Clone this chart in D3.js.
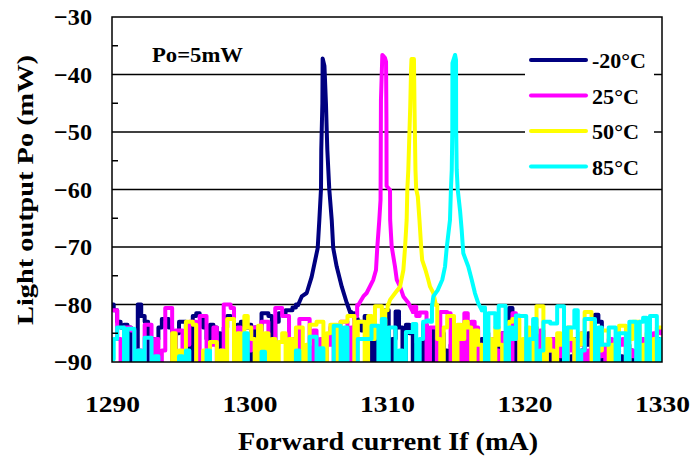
<!DOCTYPE html>
<html><head><meta charset="utf-8">
<script src="https://cdn.jsdelivr.net/npm/d3@7"></script>
<style>
body{margin:0;background:#fff;}
text{font-family:"Liberation Serif","Times New Roman",serif;font-weight:bold;fill:#000;}
</style></head>
<body><svg id="c" width="692" height="468"></svg>
<script>
// ---- data ----
const xTicks = [1290, 1300, 1310, 1320, 1330];
const yTicks = [-30, -40, -50, -60, -70, -80, -90];
const yMinorTicks = [-35, -45, -55, -65, -75, -85];
const seriesNames = ["-20°C", "25°C", "50°C", "85°C"];
const seriesColors = ["#000080", "#ff00ff", "#ffff00", "#00ffff"];
const wavelengthStart = 1290, wavelengthStep = 0.25;

const noiseNavy = [
-80,-81,-83,-84,-83.5,-84,-95,-95,-80,-82,
-83,-95,-86,-86,-84,-82.5,-82.5,-84,-95,-85,
-83,-83,-85,-95,-82,-81.5,-82,-84,-86,-83.5,
-84,-85,-95,-84,-82,-82.5,-84,-83.5,-83,-84,
-83.5,-95,-84,-84.5,-81.5,-81.5,-82,-95,-83,-81.5,
-81.5,-81,-81,-80.5,-80,-80,-80,-80,-80,-80,
-80,-80,-80,-80,-80,-80,-80,-80,-80,-80,
-81.5,-82.5,-83,-84.5,-82,-83.5,-95,-86,-95,-84,
-81,-95,-86,-81.2,-84,-95,-83.5,-85,-95,-87,
-95,-83.5,-85,-95,-84.5,-86,-85,-88,-95,-87,
-95,-88,-86,-95,-87,-89,-95,-88,-86,-95,
-87,-88,-95,-86,-85,-95,-80.6,-84,-95,-87,
-88,-95,-86,-84,-95,-88,-87,-95,-86,-89,
-95,-88,-87,-95,-89,-86,-95,-88,-87,-85,
-95,-81.8,-83,-95,-88,-87,-95,-86,-89,-95,
-87,-88,-95,-89,-86,-95,-88,-87,-95,-86,
-88];
const noiseMagenta = [
-81,-81,-86,-95,-84,-84,-84.5,-95,-88,-95,
-83.5,-83.5,-95,-86,-95,-88,-80.6,-80.6,-95,-84.5,
-84.5,-95,-87,-83,-83,-95,-82,-82,-95,-87,
-84,-95,-88,-80,-80,-80.6,-95,-84,-95,-86,
-88,-84,-84,-95,-83,-83,-95,-87,-80.6,-80.6,
-82,-82,-95,-86,-95,-82.5,-82.5,-82.5,-95,-84.5,
-95,-86,-95,-87,-84,-95,-88,-83,-83,-95,
-84,-82,-85,-85,-85,-85,-85,-85,-85,-85,
-85,-85,-85,-85,-85,-85,-85,-85,-80.4,-82,
-81.4,-81.4,-95,-84,-84,-95,-81.3,-81.3,-81.5,-95,
-84,-85,-95,-81.5,-95,-83,-84,-95,-87,-85,
-95,-86,-88,-95,-85,-87,-95,-81.5,-86,-95,
-88,-86,-95,-87,-89,-84.5,-95,-88,-86,-95,
-87,-89,-95,-86,-88,-95,-87,-85,-95,-88,
-86,-95,-89,-87,-95,-86,-88,-95,-87,-86,
-95,-88,-89,-95,-86,-87,-95,-88,-85,-84.5,
-85];
const noiseYellow = [
-95,-95,-95,-95,-92,-95,-95,-95,-95,-92,
-95,-95,-95,-95,-95,-95,-95,-92,-85,-95,
-88,-95,-83,-83,-83.5,-95,-95,-88,-95,-86.5,
-86.5,-95,-88,-95,-82.5,-82.5,-95,-85,-95,-82,
-84,-86,-95,-83.7,-95,-85,-95,-86,-95,-86.5,
-85,-95,-86,-95,-84,-84,-95,-87,-83.5,-83.5,
-83,-83,-95,-85,-83.5,-83.5,-95,-83,-83,-82,
-82,-95,-83,-83,-95,-82,-86,-80.3,-80.3,-84,
-81,-85,-85,-85,-85,-85,-85,-85,-85,-85,
-85,-85,-85,-85,-85,-86,-95,-84,-82,-82,
-95,-83.5,-86,-83,-84,-95,-84.5,-87,-95,-85,
-86,-95,-84,-87,-95,-85,-83,-82.5,-82.5,-95,
-86,-84,-95,-85,-80.3,-80.3,-95,-86,-88,-95,
-85,-87,-95,-84,-86,-95,-87,-85,-81.3,-81.3,
-95,-86,-88,-84.5,-84.5,-95,-87,-86,-83.7,-83.7,
-95,-86,-83,-83,-95,-87,-85,-95,-86,-84,
-84];
const noiseCyan = [
-89.5,-86,-84,-84,-95,-84.2,-84.2,-95,-88,-95,
-85.8,-85.8,-95,-89,-95,-95,-95,-95,-95,-95,
-89,-95,-88,-95,-95,-95,-95,-95,-88,-95,
-95,-95,-95,-95,-95,-95,-95,-95,-95,-85,
-95,-95,-95,-95,-88.2,-95,-95,-95,-95,-95,
-95,-95,-95,-95,-88,-95,-95,-95,-85.6,-85.6,
-95,-87.6,-95,-95,-95,-83.7,-83.7,-95,-84,-95,
-95,-95,-86,-86,-86,-86,-83.7,-83.7,-95,-82.5,
-95,-84,-84,-95,-88,-95,-84.8,-84.8,-83.4,-95,
-86,-83,-82.8,-83,-85,-85,-85,-85,-85,-85,
-85,-85,-85,-85,-85,-85,-85,-85,-80.5,-95,
-81.5,-81.5,-84,-80.2,-80.2,-95,-84,-86,-81.9,-82,
-82,-95,-86,-82.5,-95,-88,-83,-83,-83.3,-83.3,
-80.3,-80.3,-95,-84,-84,-81,-95,-88,-82.5,-82.5,
-82.5,-95,-84,-87,-87,-84,-84,-95,-85,-85,
-95,-83,-83,-95,-83,-82.3,-95,-82,-82,-95,
-86];

const peakNavy = [[1303.53,-80.1],[1303.8,-78.6],[1304.16,-78.0],[1304.52,-75.2],[1304.96,-70.2],[1305.08,-65.3],[1305.2,-59.9],[1305.22,-53.1],[1305.3,-45],[1305.32,-37.2],[1305.45,-38.5],[1305.56,-45],[1305.62,-50],[1305.66,-53.1],[1305.8,-59.9],[1305.98,-65.3],[1306.09,-70.2],[1306.34,-73.4],[1306.71,-76.9],[1307.07,-79.7],[1307.31,-81.3]];
const peakMagenta = [[1307.91,-80.1],[1308.28,-78.6],[1308.52,-78.0],[1309.0,-75.7],[1309.2,-74.0],[1309.29,-70.2],[1309.44,-65.3],[1309.53,-61.8],[1309.54,-56.6],[1309.56,-44.4],[1309.66,-36.6],[1309.85,-37.1],[1309.93,-37.8],[1309.96,-47.9],[1309.97,-59.4],[1310.22,-60.1],[1310.23,-65.3],[1310.34,-69.9],[1310.58,-73.4],[1310.71,-75.7],[1310.95,-76.9],[1311.19,-78.6],[1311.55,-79.7],[1311.89,-81.3]];
const peakYellow = [[1310.09,-80.1],[1310.22,-79.2],[1310.58,-78.05],[1310.95,-76.9],[1311.19,-74.0],[1311.31,-70.2],[1311.43,-65.3],[1311.48,-59.9],[1311.55,-56.6],[1311.69,-45.5],[1311.75,-39.2],[1311.78,-37.3],[1311.96,-37.3],[1312.0,-45.6],[1312.07,-56.6],[1312.12,-59.9],[1312.24,-61.25],[1312.36,-65.3],[1312.49,-70.2],[1312.56,-72.3],[1312.8,-74.0],[1313.0,-75.7],[1313.13,-76.9],[1313.37,-78.0],[1313.56,-80.1]];
const peakCyan = [[1313.29,-80.1],[1313.37,-78.6],[1313.69,-77.5],[1314.02,-75.7],[1314.22,-73.4],[1314.34,-70.2],[1314.58,-65.3],[1314.65,-59.9],[1314.71,-56.6],[1314.75,-49.8],[1314.76,-38.0],[1314.95,-36.6],[1315.02,-37.5],[1315.03,-49.8],[1315.07,-56.6],[1315.14,-59.9],[1315.31,-63.6],[1315.43,-67.0],[1315.55,-71.1],[1315.91,-73.4],[1316.16,-75.7],[1316.4,-78.05],[1316.64,-79.8],[1316.9,-81.0]];

const noiseList = [noiseNavy, noiseMagenta, noiseYellow, noiseCyan];
const peakList = [peakNavy, peakMagenta, peakYellow, peakCyan];

// ---- layout ----
const L = 112, T = 17, W = 550, H = 345;
const svg = d3.select("#c");
const x = d3.scaleLinear().domain([1290, 1330]).range([L, L + W]);
const y = d3.scaleLinear().domain([-90, -30]).range([T + H, T]);

svg.append("defs").append("clipPath").attr("id", "pc")
  .append("rect").attr("x", L).attr("y", T).attr("width", W).attr("height", H);

// gridlines
svg.append("g").selectAll("line").data(yTicks.filter(v => v > -90 && v < -30)).join("line")
  .attr("x1", L).attr("x2", L + W).attr("y1", d => y(d)).attr("y2", d => y(d))
  .attr("stroke", "#000").attr("stroke-width", 1.5);

// series
const lineStep = d3.line().x(d => x(d[0])).y(d => y(d[1])).curve(d3.curveStep);
const lineLin = d3.line().x(d => x(d[0])).y(d => y(d[1]));
const gData = svg.append("g").attr("clip-path", "url(#pc)");
noiseList.forEach((noise, k) => {
  const pk = peakList[k];
  const lo = pk[0][0], hi = pk[pk.length - 1][0];
  const all = noise.map((v, i) => [wavelengthStart + i * wavelengthStep, v]);
  const left = all.filter(p => p[0] < lo).concat([pk[0]]);
  const right = [pk[pk.length - 1]].concat(all.filter(p => p[0] > hi));
  const g = gData.append("g").attr("fill", "none")
    .attr("stroke", seriesColors[k]).attr("stroke-width", 4)
    .attr("stroke-linejoin", "round").attr("stroke-linecap", "round");
  g.append("path").attr("d", lineStep(left));
  g.append("path").attr("d", lineLin(pk));
  g.append("path").attr("d", lineStep(right));
});

// legend
const lg = svg.append("g");
lg.append("rect").attr("x", 525).attr("y", 44).attr("width", 129).attr("height", 140).attr("fill", "#fff");
const legendWidths = [54, 47, 47, 47];
seriesNames.forEach((n, k) => {
  const yy = 60 + k * 35.5;
  lg.append("line").attr("x1", 531).attr("x2", 586).attr("y1", yy).attr("y2", yy)
    .attr("stroke", seriesColors[k]).attr("stroke-width", 4).attr("stroke-linecap", "round");
  lg.append("text").attr("x", 592).attr("y", yy + 8).attr("font-size", 21)
    .attr("textLength", legendWidths[k]).attr("lengthAdjust", "spacingAndGlyphs").text(n);
});

// frame
svg.append("rect").attr("x", L).attr("y", T).attr("width", W).attr("height", H)
  .attr("fill", "none").attr("stroke", "#000").attr("stroke-width", 1.5);

// axes
const ya = d3.axisLeft(y).tickValues(yTicks).tickSize(0).tickPadding(20).tickFormat(d3.format("d"));
const gy = svg.append("g").attr("transform", `translate(${L},0)`).call(ya);
gy.select(".domain").remove();
gy.selectAll("text").attr("font-size", 24).attr("font-family", "Liberation Serif").attr("font-weight", "bold")
  .attr("textLength", 38).attr("lengthAdjust", "spacingAndGlyphs");
svg.append("g").selectAll("line").data(yMinorTicks).join("line")
  .attr("x1", L).attr("x2", L + 6).attr("y1", d => y(d)).attr("y2", d => y(d))
  .attr("stroke", "#000").attr("stroke-width", 1.5);

const xa = d3.axisBottom(x).tickValues(xTicks).tickSize(0).tickPadding(33).tickFormat(d3.format("d"));
const gx = svg.append("g").attr("transform", `translate(0,${T + H})`).call(xa);
gx.select(".domain").remove();
gx.selectAll("text").attr("font-size", 24).attr("font-family", "Liberation Serif").attr("font-weight", "bold")
  .attr("textLength", 55).attr("lengthAdjust", "spacingAndGlyphs");

// titles
svg.append("text").attr("x", 152).attr("y", 62).attr("font-size", 20)
  .attr("textLength", 91).attr("lengthAdjust", "spacingAndGlyphs").text("Po=5mW");
svg.append("text").attr("x", 388).attr("y", 450).attr("text-anchor", "middle").attr("font-size", 25)
  .attr("textLength", 300).attr("lengthAdjust", "spacingAndGlyphs").text("Forward current If (mA)");
svg.append("text").attr("transform", "translate(33,190) rotate(-90)").attr("text-anchor", "middle")
  .attr("font-size", 24).attr("textLength", 270).attr("lengthAdjust", "spacingAndGlyphs").text("Light output Po (mW)");
</script></body></html>
